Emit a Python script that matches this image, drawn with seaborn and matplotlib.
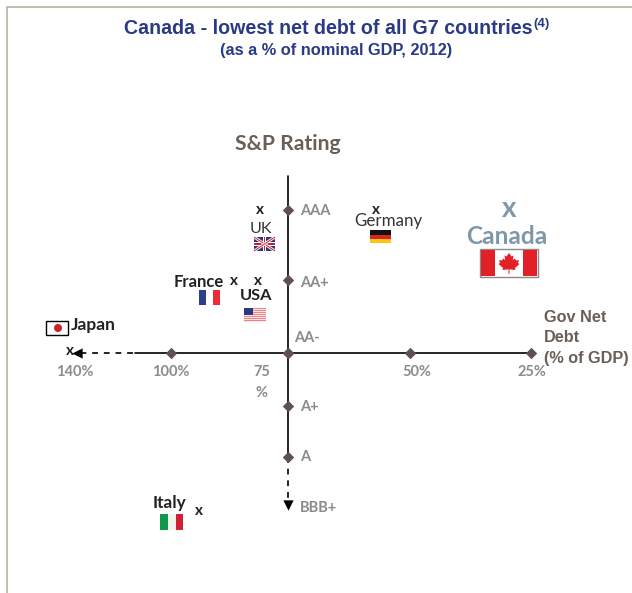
import numpy as np
import pandas as pd
import seaborn as sns
import matplotlib.pyplot as plt
from matplotlib.patches import Rectangle, Polygon, Circle

# data
ratings = ["AAA", "AA+", "AA-", "A+", "A", "BBB+"]
rating_rank = [0, 1, 2, 3, 4]
debt_ticks = [25, 50, 75, 100]
debt_labels = ["140%", "100%", "75\n%", "50%", "25%"]

countries = ["Canada", "Germany", "UK", "USA", "France", "Japan", "Italy"]
net_debt = [29.5, 57, 81, 81.5, 86.5, 142, 94]
rating_pos = [-0.02, 0, 0, 1.02, 1.02, 1.97, 5.2]

AXIS_RANK = 2
AXIS_DEBT = 75

sns.set_theme(style="white")
plt.rcParams["font.family"] = ["Lato", "DejaVu Sans"]

GREY = "#8b8b8b"
BROWN = "#6a5f58"
DIAMOND = "#605050"
NAVY = "#2a3a85"
ARIAL = ["Liberation Sans", "DejaVu Sans"]

fig = plt.figure(figsize=(6.32, 5.93), dpi=100)
ax = fig.add_axes([0, 0, 1, 1])

# the source axes are not evenly spaced, so both scales go through knots
debt_knots = [4.1, 25, 50, 75, 100, 140, 171.25]
debt_px = [632, 531, 410, 288, 171, 75, 0]
rank_knots = [-3, 0, 1, 2, 3, 4, 7]
rank_px = [0, 210, 280, 353, 406, 457, 593]


# negative pixels: debt axis runs right to left and the scale has to increase with debt
def debt_fwd(v):
    return -np.interp(v, debt_knots, debt_px)


def debt_inv(p):
    return np.interp(-np.asarray(p), debt_px[::-1], debt_knots[::-1])


def rank_fwd(v):
    return np.interp(v, rank_knots, rank_px)


def rank_inv(p):
    return np.interp(p, rank_px, rank_knots)


ax.set_xscale("function", functions=(debt_fwd, debt_inv))
ax.set_yscale("function", functions=(rank_fwd, rank_inv))

# axes lines
h_line = pd.DataFrame({"x": [25, 115], "y": [AXIS_RANK, AXIS_RANK]})
h_dash = pd.DataFrame({"x": [116, 137], "y": [AXIS_RANK, AXIS_RANK]})
v_line = pd.DataFrame({"x": [AXIS_DEBT, AXIS_DEBT], "y": [-0.49, 4]})
v_dash = pd.DataFrame({"x": [AXIS_DEBT, AXIS_DEBT], "y": [4, 4.95]})
for seg, ls in [(h_line, "-"), (v_line, "-"), (h_dash, (0, (3.5, 3.5))), (v_dash, (0, (3.5, 3.5)))]:
    sns.lineplot(data=seg, x="x", y="y", ax=ax, color="black", lw=1.2, linestyle=ls,
                 estimator=None, sort=False, errorbar=None, legend=False)

# arrow heads
sns.scatterplot(x=[139], y=[AXIS_RANK], marker="<", s=55, color="black", linewidth=0, ax=ax, legend=False)
sns.scatterplot(x=[AXIS_DEBT], y=[5.06], marker="v", s=55, color="black", linewidth=0, ax=ax, legend=False)

# tick diamonds
sns.scatterplot(x=debt_ticks + [AXIS_DEBT] * len(rating_rank),
                y=[AXIS_RANK] * len(debt_ticks) + rating_rank,
                marker="D", s=34, color=DIAMOND, linewidth=0, ax=ax, legend=False, zorder=5)

# country crosses
for name, d, r in zip(countries, net_debt, rating_pos):
    if name == "Canada":
        ax.text(d, r, "x", fontsize=20, fontweight="bold", color="#7f98a9", ha="center", va="center")
    else:
        ax.text(d, r, "x", fontsize=11, fontweight="bold", color="#1f1f1f", ha="center", va="center")

ax.set_xlim(171.25, 4.1)
ax.set_ylim(7, -3)
ax.set_axis_off()

# overlay in pixels for frame, labels and flags
ov = fig.add_axes([0, 0, 1, 1], zorder=3)
ov.set_xlim(0, 632)
ov.set_ylim(593, 0)
ov.set_axis_off()
ov.patch.set_alpha(0)

ov.plot([7, 7, 632], [593, 7, 7], color="#bdb9a9", lw=1.3, solid_joinstyle="miter")

ov.text(124, 29, "Canada - lowest net debt of all G7 countries", fontsize=14.15, fontweight="bold",
        color=NAVY, family=ARIAL, ha="left", va="center")
ov.text(533, 24, "(4)", fontsize=9.5, fontweight="bold", color=NAVY, family=ARIAL, ha="left", va="center")
ov.text(336, 50, "(as a % of nominal GDP, 2012)", fontsize=11.8, fontweight="bold", color=NAVY,
        family=ARIAL, ha="center", va="center")
ov.text(288, 144, "S&P Rating", fontsize=15.2, fontweight="bold", color=BROWN, ha="center", va="center")

for txt, y in zip(["Gov Net", "Debt", "(% of GDP)"], [317, 338, 358]):
    ov.text(544, y, txt, fontsize=11.7, fontweight="bold", color=BROWN, family=ARIAL, ha="left", va="center")

# x tick labels
for txt, x in zip(debt_labels, [75, 171, 262, 417, 532]):
    if "\n" in txt:
        ov.text(x, 372, txt.split("\n")[0], fontsize=10.5, fontweight="bold", color=GREY, ha="center", va="center")
        ov.text(x, 393, txt.split("\n")[1], fontsize=10.5, fontweight="bold", color=GREY, ha="center", va="center")
    else:
        ov.text(x, 372, txt, fontsize=10.5, fontweight="bold", color=GREY, ha="center", va="center")

# rating labels
for txt, x, y in zip(ratings, [300, 300, 294, 300, 300, 300], [211, 283, 338, 407, 457, 508]):
    ov.text(x, y, txt, fontsize=10.5, fontweight="bold", color=GREY, ha="left", va="center")

# country labels
ov.text(261, 229, "UK", fontsize=11.5, color="#333333", ha="center", va="center")
ov.text(388, 221, "Germany", fontsize=12.2, color="#333333", ha="center", va="center")
ov.text(507, 237, "Canada", fontsize=17.6, fontweight="bold", color="#7f98a9", ha="center", va="center")
ov.text(198.5, 282, "France", fontsize=12, fontweight="bold", color="#222222", ha="center", va="center")
ov.text(256, 296, "USA", fontsize=11.8, fontweight="bold", color="#222222", ha="center", va="center")
ov.text(71, 325, "Japan", fontsize=12.5, fontweight="bold", color="#222222", ha="left", va="center")
ov.text(169, 503, "Italy", fontsize=12.4, fontweight="bold", color="#222222", ha="center", va="center")


def box(x0, y0, x1, y1, col, **kw):
    ov.add_patch(Rectangle((x0, y0), x1 - x0, y1 - y0, facecolor=col, edgecolor="none", **kw))


# UK
box(254, 237, 275, 251, "#2b3a7e")
for a, b in [((254, 237), (275, 251)), ((254, 251), (275, 237))]:
    ov.plot([a[0], b[0]], [a[1], b[1]], color="white", lw=2, solid_capstyle="butt")
    ov.plot([a[0], b[0]], [a[1], b[1]], color="#c8202f", lw=0.7, solid_capstyle="butt")
box(254, 242, 275, 246, "white")
box(263, 237, 266, 251, "white")
box(254, 243, 275, 245, "#c8202f")
box(264, 237, 265.4, 251, "#c8202f")

# France
box(199, 290, 206, 305, "#2b3f8c")
box(206, 290, 213, 305, "white")
box(213, 290, 220, 305, "#ee2a39")

# USA
for i in range(7):
    box(244, 308 + i * 2, 266, 309 + i * 2, "#e8848c")
    box(244, 309 + i * 2, 266, 310 + i * 2, "#fbe4e4")
box(244, 308, 253, 315, "#2b3a7e")

# Japan
ov.add_patch(Rectangle((46, 321), 22, 14, facecolor="white", edgecolor="black", lw=1))
ov.add_patch(Circle((58, 328), 4, facecolor="#cc2027", edgecolor="none"))

# Germany
box(370, 230, 391, 234.5, "#111111")
box(370, 234.5, 391, 239, "#d8232a")
box(370, 239, 391, 243, "#f6c810")

# Canada
ov.add_patch(Rectangle((480, 249), 58, 28, facecolor="white", edgecolor="#8a8a8a", lw=1))
box(481, 250, 495, 276, "#e12127")
box(523, 250, 537, 276, "#e12127")
leaf = [(509, 253), (511.5, 256.5), (513.5, 255.5), (512.8, 260), (515, 258.5), (516, 260.5), (519, 260),
        (518, 263), (519.5, 264), (515, 268), (515.5, 270), (509.5, 269.3), (509.5, 274), (508.5, 274),
        (508.5, 269.3), (502.5, 270), (503, 268), (498.5, 264), (500, 263), (499, 260), (502, 260.5),
        (503, 258.5), (505.2, 260), (504.5, 255.5), (506.5, 256.5)]
ov.add_patch(Polygon(leaf, closed=True, facecolor="#e12127", edgecolor="none"))

# Italy
box(160, 514, 168, 530, "#0f9a4b")
box(168, 514, 176, 530, "#f2f2ee")
box(176, 514, 183, 530, "#cf2036")

fig.savefig("out.png", dpi=100)
